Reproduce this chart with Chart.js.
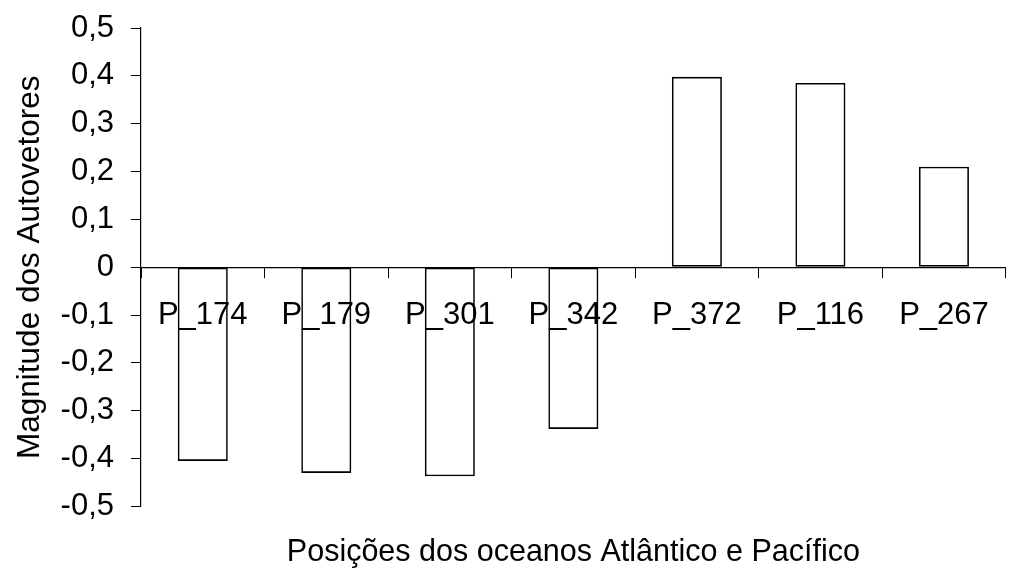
<!DOCTYPE html>
<html>
<head>
<meta charset="utf-8">
<script src="https://cdn.jsdelivr.net/npm/chart.js@4"></script>
<style>
  html, body { margin: 0; padding: 0; background: #fff; }
  #wrap { width: 1009px; height: 574px; }
</style>
</head>
<body>
<div id="wrap"><canvas id="chart" width="1009" height="574"></canvas></div>
<script>
// estações (categorias) e magnitude dos autovetores
const positions = ['P_174', 'P_179', 'P_301', 'P_342', 'P_372', 'P_116', 'P_267'];
const magnitudes = [-0.405, -0.43, -0.437, -0.338, 0.398, 0.385, 0.21];
const yMin = -0.5;
const yMax = 0.5;
const yStep = 0.1;

const font = { family: '"Liberation Sans", Arial, sans-serif', size: 31 };

// 0,5 / -0,1 / 0 ...
function fmt(v) {
    const r = Math.round(v * 10) / 10;
    if (r === 0) return '0';
    return r.toFixed(1).replace('.', ',');
}

new Chart(document.getElementById('chart'), {
    type: 'bar',
    data: {
        labels: positions,
        datasets: [{
            data: magnitudes,
            backgroundColor: 'rgba(255,255,255,0)',
            borderColor: '#000',
            borderWidth: 1.6,
            borderSkipped: false,
            categoryPercentage: 1,
            barPercentage: 0.405
        }]
    },
    options: {
        responsive: false,
        animation: false,
        layout: { padding: { top: 28, right: 1, bottom: 0, left: 0 } },
        plugins: {
            legend: { display: false },
            tooltip: { enabled: false },
            title: {
                display: true,
                position: 'bottom',
                fullSize: false,
                text: 'Posições dos oceanos Atlântico e Pacífico',
                color: '#000',
                font: { ...font, size: 30.5, weight: 'normal' },
                padding: { top: 28, bottom: 3 }
            }
        },
        scales: {
            x: {
                position: { y: 0 },
                offset: true,
                grid: { offset: true, drawOnChartArea: false, tickLength: 10, color: '#000' },
                border: { color: '#000', width: 1.2 },
                ticks: { color: '#000', font: font, padding: 20, maxRotation: 0, autoSkip: false }
            },
            y: {
                min: yMin,
                max: yMax,
                grid: { drawOnChartArea: false, tickLength: 10, color: '#000' },
                border: { color: '#000', width: 1.2 },
                ticks: { stepSize: yStep, color: '#000', font: font, padding: 17, callback: v => fmt(v) },
                title: {
                    display: true,
                    text: 'Magnitude dos Autovetores',
                    color: '#000',
                    font: { ...font, size: 31.5 },
                    padding: { top: 11, bottom: 0 }
                },
                afterFit: s => {
                    s.width = 141;
                    s.paddingTop = 10;
                    s.paddingBottom = 10;
                }
            }
        }
    }
});
</script>
</body>
</html>
